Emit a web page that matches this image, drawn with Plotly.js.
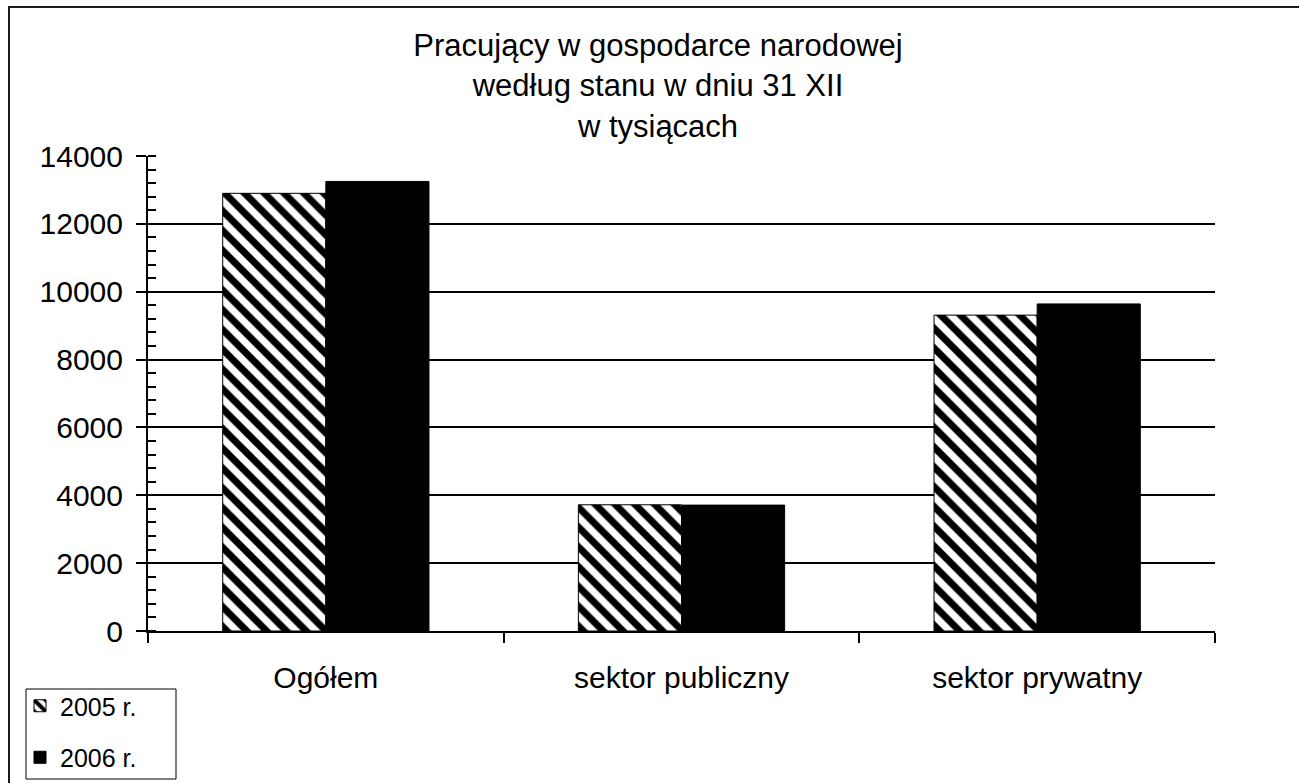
<!DOCTYPE html>
<html>
<head>
<meta charset="utf-8">
<script src="https://cdn.plot.ly/plotly-3.0.1.min.js"></script>
<style>
html,body{margin:0;padding:0;background:#fff;}
#chart{width:1299px;height:783px;}
</style>
</head>
<body>
<div id="chart"></div>
<script>
var categories = ["Ogółem", "sektor publiczny", "sektor prywatny"];
var values2005 = [12900, 3720, 9310];
var values2006 = [13250, 3710, 9640];
var seriesNames = ["2005 r.", "2006 r."];
var yTicks = [0, 2000, 4000, 6000, 8000, 10000, 12000, 14000];
var titleText = "Pracujący w gospodarce narodowej<br>według stanu w dniu 31 XII<br>w tysiącach";

var FONT = "Liberation Sans, Arial, sans-serif";

var traces = [
  {
    type: "bar",
    name: seriesNames[0],
    x: categories,
    y: values2005,
    legendgroup: "a",
    marker: {
      color: "#ffffff",
      line: {color: "#000000", width: 1},
      pattern: {shape: "\\", fgcolor: "#000000", bgcolor: "#ffffff", size: 14, solidity: 0.5, fillmode: "replace"}
    },
    hoverinfo: "x+y"
  },
  {
    type: "bar",
    name: seriesNames[1],
    x: categories,
    y: values2006,
    legendgroup: "b",
    marker: {color: "#000000", line: {color: "#000000", width: 1}},
    hoverinfo: "x+y"
  }
];

var W = 1299, H = 783;
var L = 148, R = 1215, T = 156, B = 631;
function px2paperX(p){ return (p - L) / (R - L); }
function px2paperY(p){ return (B - p) / (B - T); }

var fx0 = px2paperX(9), fx1 = px2paperX(1330);
var fy0 = px2paperY(800), fy1 = px2paperY(7);

var layout = {
  width: W, height: H,
  margin: {l: L, r: W - R, t: T, b: H - B, pad: 0, autoexpand: false},
  paper_bgcolor: "#ffffff",
  plot_bgcolor: "#ffffff",
  font: {family: FONT, color: "#000000", size: 30},
  title: {
    text: titleText,
    font: {family: FONT, size: 31, color: "#000000"},
    xref: "container", x: 658 / W, xanchor: "center",
    yref: "container", y: 1 - 56 / H, yanchor: "top"
  },
  barmode: "group",
  bargap: 0.42,
  bargroupgap: 0,
  showlegend: true,
  legend: {
    x: px2paperX(20), y: px2paperY(683),
    xanchor: "left", yanchor: "top",
    borderwidth: 0,
    bgcolor: "rgba(0,0,0,0)",
    font: {family: FONT, size: 25, color: "#000000"},
    traceorder: "grouped",
    tracegroupgap: 16,
    itemwidth: 30
  },
  xaxis: {
    type: "category",
    categoryarray: categories,
    categoryorder: "array",
    range: [-0.5, 2.5],
    showline: true, linecolor: "#000000", linewidth: 2,
    ticks: "outside", tickson: "boundaries", ticklen: 10, tickwidth: 2, tickcolor: "#000000",
    showgrid: false, zeroline: false,
    tickfont: {family: FONT, size: 30, color: "#000000"},
    ticklabelstandoff: 19,
    fixedrange: true
  },
  xaxis2: {
    overlaying: "x",
    type: "linear",
    range: [-0.5, 2.5],
    tickvals: [-0.5, 0.5, 1.5, 2.5],
    showticklabels: false,
    ticks: "inside", ticklen: 11, tickwidth: 2, tickcolor: "#000000",
    showline: false, showgrid: false, zeroline: false,
    fixedrange: true
  },
  yaxis: {
    range: [0, 14000],
    tickvals: yTicks,
    ticktext: yTicks.map(String),
    showline: true, linecolor: "#000000", linewidth: 2,
    ticks: "outside", ticklen: 10, tickwidth: 2, tickcolor: "#000000",
    showgrid: true, gridcolor: "#000000", gridwidth: 2,
    zeroline: false,
    minor: {dtick: 400, ticks: "inside", ticklen: 8, tickwidth: 2, tickcolor: "#000000", showgrid: false},
    tickfont: {family: FONT, size: 30, color: "#000000"},
    ticklabelstandoff: 7,
    fixedrange: true
  },
  shapes: [
    {
      type: "path", xref: "paper", yref: "paper",
      path: "M " + fx0 + " " + fy0 + " L " + fx0 + " " + fy1 + " L " + fx1 + " " + fy1,
      line: {color: "#1a1a1a", width: 2},
      layer: "below"
    },
    {
      type: "rect", xref: "paper", yref: "paper",
      x0: px2paperX(26), x1: px2paperX(176),
      y0: px2paperY(779), y1: px2paperY(689),
      line: {color: "#000000", width: 1},
      fillcolor: "#ffffff",
      layer: "below"
    }
  ]
};

Plotly.newPlot("chart", traces, layout, {staticPlot: true, displayModeBar: false});
</script>
</body>
</html>
